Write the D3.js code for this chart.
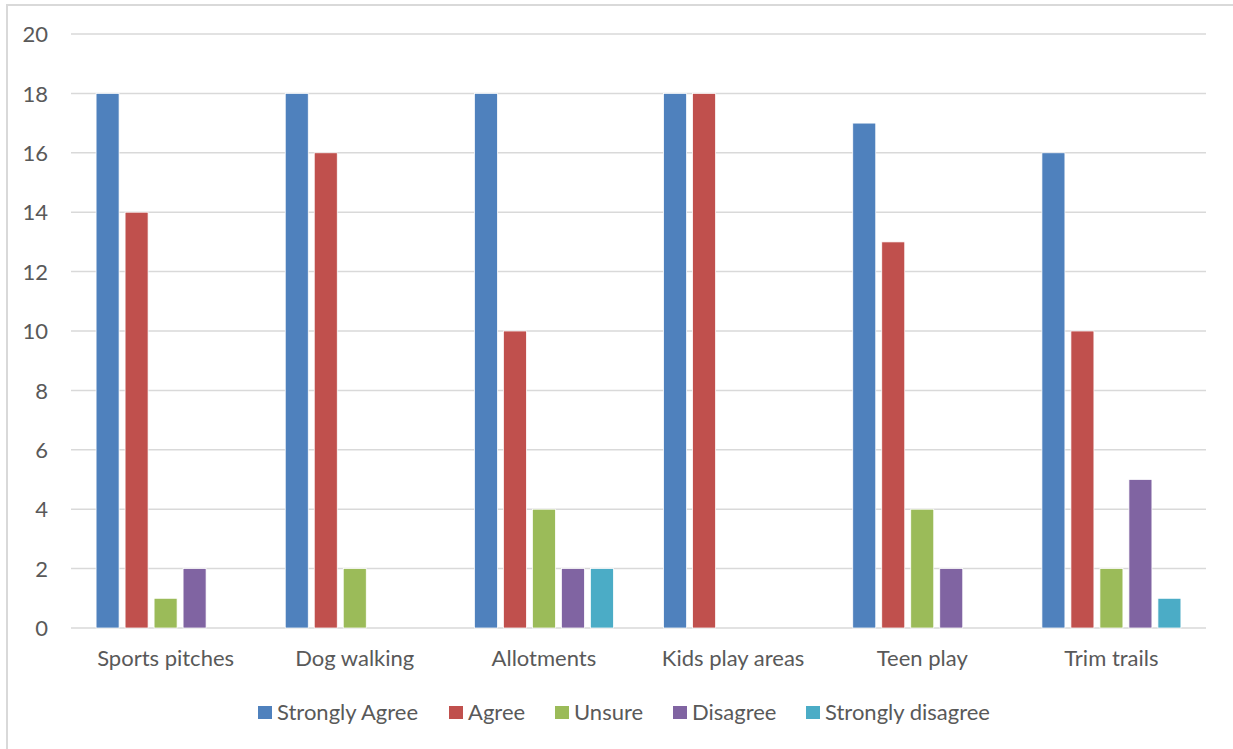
<!DOCTYPE html>
<html>
<head>
<meta charset="utf-8">
<script src="https://cdn.jsdelivr.net/npm/d3@7"></script>
<style>
  html, body { margin: 0; padding: 0; background: #fff; }
  svg { display: block; }
  text { font-family: Lato, "Open Sans", sans-serif; fill: #595959; }
</style>
</head>
<body>
<svg id="chart" width="1233" height="749"></svg>
<script>
// Survey responses per facility
const categories = ["Sports pitches", "Dog walking", "Allotments", "Kids play areas", "Teen play", "Trim trails"];
const seriesNames = ["Strongly Agree", "Agree", "Unsure", "Disagree", "Strongly disagree"];
const stronglyAgree    = [18, 18, 18, 18, 17, 16];
const agree            = [14, 16, 10, 18, 13, 10];
const unsure           = [1, 2, 4, 0, 4, 2];
const disagree         = [2, 0, 2, 0, 2, 5];
const stronglyDisagree = [0, 0, 2, 0, 0, 1];
const yTicks = [0, 2, 4, 6, 8, 10, 12, 14, 16, 18, 20];
const colors = ["#4F81BD", "#C0504D", "#9BBB59", "#8064A2", "#4BACC6"];

const seriesValues = [stronglyAgree, agree, unsure, disagree, stronglyDisagree];
const rows = categories.map((c, i) => ({
  category: c,
  values: seriesNames.map((s, j) => ({ series: s, value: seriesValues[j][i], color: colors[j] }))
}));

const svg = d3.select("#chart");
const plot = { left: 71, right: 1206, top: 34, bottom: 628 };
const fontSize = 22;

// Chart frame
svg.append("rect")
  .attr("x", 7).attr("y", 5)
  .attr("width", 1240).attr("height", 760)
  .attr("fill", "none").attr("stroke", "#D9D9D9").attr("stroke-width", 2);

const y = d3.scaleLinear().domain([0, 20]).range([plot.bottom, plot.top]);
const x0 = d3.scaleBand().domain(categories).range([plot.left, plot.right]).padding(0);
const groupW = 139;
const off = (x0.bandwidth() - groupW) / 2;
const x1 = d3.scaleBand().domain(seriesNames).range([off, off + groupW]).paddingInner(0.207).paddingOuter(0);

// Gridlines
svg.append("g")
  .selectAll("line")
  .data(yTicks)
  .join("line")
  .attr("x1", plot.left).attr("x2", plot.right)
  .attr("y1", d => y(d)).attr("y2", d => y(d))
  .attr("stroke", "#D9D9D9").attr("stroke-width", 1.5);

// Y axis labels
const yAxis = d3.axisLeft(y).tickValues(yTicks).tickSize(0).tickPadding(0);
const gy = svg.append("g").attr("transform", "translate(48,0)").call(yAxis);
gy.select(".domain").remove();
gy.selectAll("text").attr("font-size", fontSize).attr("font-family", "Lato, sans-serif").attr("fill", "#595959").attr("dy", "0.35em");

// Bars
const groups = svg.append("g")
  .selectAll("g")
  .data(rows)
  .join("g")
  .attr("transform", d => `translate(${x0(d.category)},0)`);

groups.selectAll("rect")
  .data(d => d.values.filter(v => v.value > 0))
  .join("rect")
  .attr("x", d => x1(d.series))
  .attr("width", x1.bandwidth())
  .attr("y", d => y(d.value))
  .attr("height", d => y(0) - y(d.value))
  .attr("fill", d => d.color)
  .attr("stroke", "#fff").attr("stroke-width", 0.75);

// Category labels
const xAxis = d3.axisBottom(x0).tickSize(0).tickPadding(0);
const gx = svg.append("g").attr("transform", "translate(0,666)").call(xAxis);
gx.select(".domain").remove();
gx.selectAll("text").attr("font-size", fontSize).attr("font-family", "Lato, sans-serif").attr("fill", "#595959").attr("dy", 0);

// Legend
const legendX = [258, 449, 555, 673, 806];
const legend = svg.append("g")
  .selectAll("g")
  .data(seriesNames)
  .join("g")
  .attr("transform", (d, i) => `translate(${legendX[i]},706)`);
legend.append("rect").attr("width", 14).attr("height", 13).attr("fill", (d, i) => colors[i]);
legend.append("text").attr("x", 19).attr("y", 14).attr("font-size", fontSize).text(d => d);
</script>
</body>
</html>
